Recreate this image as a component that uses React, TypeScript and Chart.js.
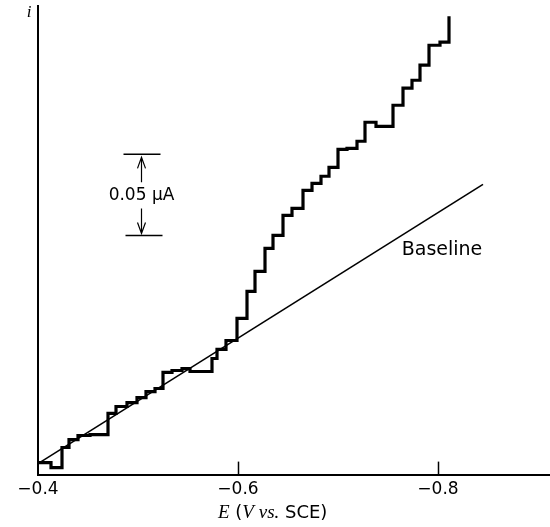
import React, { useEffect, useRef } from "react";
import { Chart, registerables } from "chart.js";

Chart.register(...registerables);

// Staircase voltammogram: start potential of each step (V vs. SCE) and its current level (nA)
const stepPotentials = [
  -0.4, -0.413, -0.424, -0.431, -0.44, -0.452, -0.47, -0.478, -0.489, -0.499,
  -0.508, -0.517, -0.525, -0.534, -0.544, -0.552, -0.574, -0.579, -0.588, -0.599,
  -0.609, -0.617, -0.627, -0.635, -0.645, -0.654, -0.665, -0.674, -0.683, -0.691,
  -0.7, -0.709, -0.719, -0.727, -0.738, -0.755, -0.765, -0.774, -0.782, -0.791,
  -0.802, -0.811,
];
const stepCurrents = [
  7.4, 4.3, 16.7, 21.6, 24.1, 24.7, 37.7, 42.0, 44.4, 47.5,
  51.2, 53.1, 63.0, 64.2, 65.4, 63.6, 71.6, 77.2, 82.7, 96.3,
  113.0, 125.3, 139.5, 147.5, 159.9, 164.2, 175.3, 179.6, 184.0, 189.5,
  200.6, 201.2, 205.6, 217.3, 214.8, 227.8, 238.3, 243.2, 252.5, 264.8,
  266.7, 282.7,
];

// Baseline (straight line)
const baselinePotentials = [-0.4, -0.845];
const baselineCurrents = [6.8, 179];

// Axes
const xMin = -0.912;
const xMax = -0.4;
const yMin = 0;
const yMax = 289;
const xTickValues = [-0.4, -0.6, -0.8];
const xTickLabels = ["\u22120.4", "\u22120.6", "\u22120.8"];
const yAxisLabel = "i";

// Scale bar (0.05 μA = 50 nA)
const scaleBarPotential = -0.503;
const scaleBarCurrents = [147.5, 197.5];
const scaleBarLabel = "0.05 \u03bcA";

// Baseline annotation
const baselineLabel = "Baseline";
const baselineLabelPos = { E: -0.804, i: 138.3 };

// X-axis title pieces
const xTitleStart = -0.58;
const xTitleParts = [
  { text: "E", font: "italic 19px 'Liberation Serif'" },
  { text: " (", font: "18px 'DejaVu Sans'" },
  { text: "V vs.", font: "italic 19px 'Liberation Serif'" },
  { text: " SCE)", font: "18px 'DejaVu Sans'" },
];

const annotationsPlugin = {
  id: "annotations",
  afterDraw(chart: any) {
    const { ctx, chartArea, scales } = chart;
    const xs = scales.x;
    const ys = scales.y;
    ctx.save();
    ctx.strokeStyle = "#000";
    ctx.fillStyle = "#000";

    // inward tick marks
    ctx.lineWidth = 1.5;
    xTickValues.slice(1).forEach((v) => {
      const x = Math.round(xs.getPixelForValue(v)) + 0.5;
      ctx.beginPath();
      ctx.moveTo(x, chartArea.bottom);
      ctx.lineTo(x, chartArea.bottom - 13);
      ctx.stroke();
    });

    // y-axis label "i"
    ctx.font = "italic 17px 'Liberation Serif'";
    ctx.textAlign = "center";
    ctx.textBaseline = "alphabetic";
    ctx.fillText(yAxisLabel, chartArea.left - 9, chartArea.top + 11);

    // scale bar
    const sx = Math.round(xs.getPixelForValue(scaleBarPotential)) + 0.5;
    const yBot = ys.getPixelForValue(scaleBarCurrents[0]);
    const yTop = ys.getPixelForValue(scaleBarCurrents[1]);
    ctx.lineWidth = 1.5;
    ctx.beginPath();
    ctx.moveTo(sx - 18, yTop);
    ctx.lineTo(sx + 19, yTop);
    ctx.moveTo(sx - 16, yBot);
    ctx.lineTo(sx + 21, yBot);
    ctx.stroke();
    ctx.lineWidth = 1.2;
    ctx.beginPath();
    // top arrow
    ctx.moveTo(sx, yTop + 3);
    ctx.lineTo(sx, yTop + 28);
    ctx.moveTo(sx - 4, yTop + 14);
    ctx.lineTo(sx, yTop + 3);
    ctx.lineTo(sx + 4, yTop + 14);
    // bottom arrow
    ctx.moveTo(sx, yBot - 2);
    ctx.lineTo(sx, yBot - 27);
    ctx.moveTo(sx - 4, yBot - 13);
    ctx.lineTo(sx, yBot - 2);
    ctx.lineTo(sx + 4, yBot - 13);
    ctx.stroke();
    ctx.font = "17px 'DejaVu Sans'";
    ctx.textAlign = "center";
    ctx.textBaseline = "middle";
    ctx.fillText(scaleBarLabel, sx, (yTop + yBot) / 2 + 1);

    // baseline label
    ctx.font = "19px 'DejaVu Sans'";
    ctx.fillText(
      baselineLabel,
      xs.getPixelForValue(baselineLabelPos.E),
      ys.getPixelForValue(baselineLabelPos.i)
    );

    // x title
    let tx = xs.getPixelForValue(xTitleStart);
    const ty = chartArea.bottom + 43;
    ctx.textAlign = "left";
    ctx.textBaseline = "alphabetic";
    xTitleParts.forEach((p) => {
      ctx.font = p.font;
      ctx.fillText(p.text, tx, ty);
      tx += ctx.measureText(p.text).width;
    });
    ctx.restore();
  },
};

export default function App() {
  const canvasRef = useRef<HTMLCanvasElement | null>(null);

  useEffect(() => {
    document.body.style.margin = "0";
    const canvas = canvasRef.current;
    if (!canvas) return;
    const chart = new Chart(canvas, {
      type: "line",
      data: {
        datasets: [
          {
            label: "current",
            data: stepPotentials.map((e, k) => ({ x: e, y: stepCurrents[k] })),
            borderColor: "#000",
            borderWidth: 3.2,
            stepped: true,
            pointRadius: 0,
            fill: false,
          },
          {
            label: "baseline",
            data: baselinePotentials.map((e, k) => ({ x: e, y: baselineCurrents[k] })),
            borderColor: "#000",
            borderWidth: 1.6,
            pointRadius: 0,
            fill: false,
          },
        ],
      },
      options: {
        responsive: false,
        animation: false,
        devicePixelRatio: 1,
        layout: { padding: { left: 38, right: 0, top: 6, bottom: 22 } },
        plugins: { legend: { display: false }, tooltip: { enabled: false } },
        scales: {
          x: {
            type: "linear",
            reverse: true,
            min: xMin,
            max: xMax,
            afterBuildTicks: (scale: any) => {
              scale.ticks = xTickValues.map((v) => ({ value: v }));
            },
            ticks: {
              autoSkip: false,
              maxRotation: 0,
              padding: 5,
              color: "#000",
              font: { family: "'DejaVu Sans'", size: 17 },
              callback: (v: any) => {
                const idx = xTickValues.findIndex((t) => Math.abs(t - Number(v)) < 1e-6);
                return idx >= 0 ? xTickLabels[idx] : "";
              },
            },
            grid: { display: true, drawOnChartArea: false, drawTicks: false },
            border: { display: true, color: "#000", width: 2 },
          },
          y: {
            type: "linear",
            min: yMin,
            max: yMax,
            ticks: { display: false },
            grid: { display: true, drawOnChartArea: false, drawTicks: false },
            border: { display: true, color: "#000", width: 2 },
          },
        },
      },
      plugins: [annotationsPlugin],
    });
    return () => chart.destroy();
  }, []);

  return (
    <div style={{ width: 550, height: 527, background: "#fff" }}>
      <canvas ref={canvasRef} width={550} height={527} style={{ display: "block" }} />
    </div>
  );
}
